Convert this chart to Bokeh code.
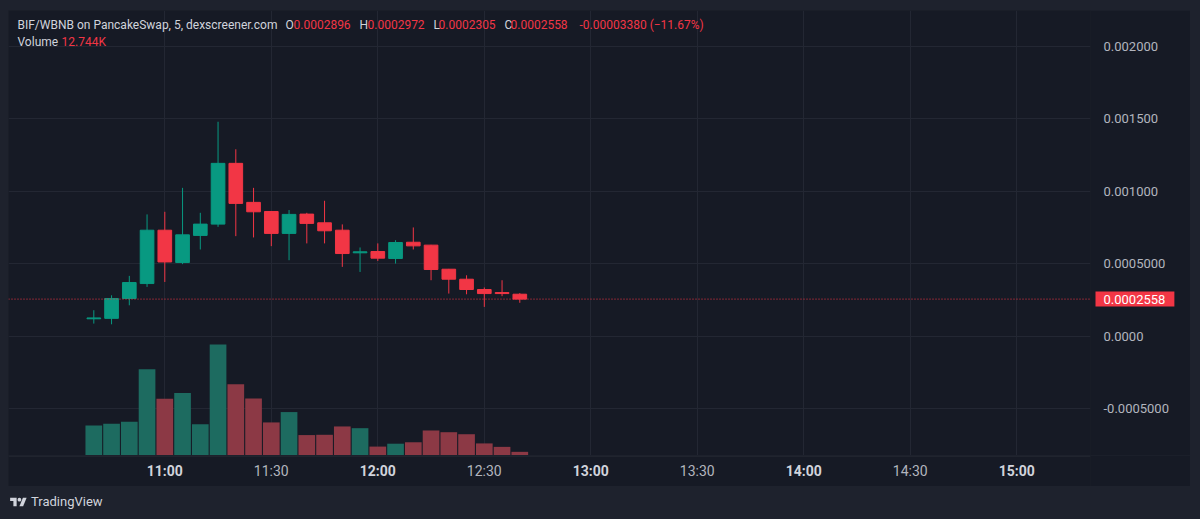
from bokeh.plotting import figure
from bokeh.models import Range1d, FixedTicker, Label, Span, Div, ColumnDataSource, LinearAxis
from bokeh.layouts import column
from bokeh.embed import file_html
from bokeh.resources import INLINE
from bokeh.core.properties import value

# ---------------- data ----------------
times = ["10:40", "10:45", "10:50", "10:55", "11:00", "11:05", "11:10", "11:15", "11:20",
         "11:25", "11:30", "11:35", "11:40", "11:45", "11:50", "11:55", "12:00", "12:05",
         "12:10", "12:15", "12:20", "12:25", "12:30", "12:35", "12:40"]
opens = [0.000120, 0.000123, 0.000260, 0.000363, 0.000731, 0.000508, 0.000695, 0.000773, 0.001192,
         0.000923, 0.000860, 0.000709, 0.000842, 0.000782, 0.000731, 0.000575, 0.000584, 0.000536,
         0.000648, 0.000628, 0.000462, 0.000393, 0.000322, 0.000301, 0.0002896]
highs = [0.000179, 0.000282, 0.000416, 0.000840, 0.000858, 0.001023, 0.000851, 0.001479, 0.001289,
         0.001023, 0.000862, 0.000870, 0.000851, 0.000934, 0.000771, 0.000612, 0.000640, 0.000662,
         0.000750, 0.000630, 0.000464, 0.000420, 0.000336, 0.000386, 0.0002972]
lows = [0.000087, 0.000082, 0.000213, 0.000340, 0.000374, 0.000497, 0.000598, 0.000754, 0.000690,
        0.000681, 0.000621, 0.000524, 0.000640, 0.000640, 0.000478, 0.000443, 0.000519, 0.000501,
        0.000598, 0.000386, 0.000294, 0.000289, 0.000202, 0.000276, 0.0002305]
closes = [0.000126, 0.000260, 0.000370, 0.000731, 0.000512, 0.000699, 0.000773, 0.001192, 0.000916,
          0.000858, 0.000709, 0.000840, 0.000778, 0.000727, 0.000570, 0.000582, 0.000538, 0.000646,
          0.000623, 0.000460, 0.000393, 0.000322, 0.000294, 0.000294, 0.0002558]
volumes_k = [104, 110, 117, 300, 197, 217, 109, 386, 248, 198, 115, 151, 71, 72, 101, 95, 31, 41,
             46, 87, 81, 74, 42, 30, 12.744]

last_price = 0.0002558
last_price_label = "0.0002558"
price_ticks = [-0.0005, 0.0, 0.0005, 0.001, 0.0015, 0.002]
price_tick_labels = ["-0.0005000", "0.0000", "0.0005000", "0.001000", "0.001500", "0.002000"]
time_ticks = ["11:00", "11:30", "12:00", "12:30", "13:00", "13:30", "14:00", "14:30", "15:00"]

header_title = "BIF/WBNB on PancakeSwap, 5, dexscreener.com"
header_keys = ["O", "H", "L", "C"]
header_vals = ["0.0002896", "0.0002972", "0.0002305", "0.0002558"]
header_change = "-0.00003380 (\u221211.67%)"
volume_label = "Volume"
volume_value = "12.744K"

# ---------------- style ----------------
FONT = "Roboto"
PANEL = "#161a25"
OUTER = "#1e222d"
GRID = "#232733"
UP = "#089981"
DOWN = "#f23645"
VOL_UP = "#1d6b60"
VOL_DOWN = "#8c3945"
TXT = "#d1d4dc"
AX = "#b2b5be"
HDR_SIZE = "12px"
TAG_W = 77  # width of the price-tag side panel


def to_min(t):
    h, m = t.split(":")
    return (int(h) - 10) * 60 + int(m)


xs = [to_min(t) for t in times]
up = [c >= o for o, c in zip(opens, closes)]
src = ColumnDataSource(dict(
    x=xs, high=highs, low=lows,
    top=[max(o, c) for o, c in zip(opens, closes)],
    bottom=[min(o, c) for o, c in zip(opens, closes)],
    color=[UP if u else DOWN for u in up],
    vcolor=[VOL_UP if u else VOL_DOWN for u in up],
    vol=volumes_k,
))

X0, X1 = 15.97, 320.76
FIG_W = 1182

p = figure(width=FIG_W, height=445, x_range=Range1d(X0, X1),
           y_range=Range1d(-0.0008228, 0.0022462),
           x_axis_location=None, y_axis_location=None,
           output_backend="svg", toolbar_location=None,
           min_border_left=0, min_border_top=0, min_border_bottom=0, min_border_right=100,
           background_fill_color=PANEL, border_fill_color=PANEL, outline_line_color=None,
           margin=(10, 10, 0, 8))
p.extra_y_ranges = {"vol": Range1d(0, 1547)}

# price tag (lives in the right side panel, next to the frame)
p.add_layout(Label(x=5, y=last_price, x_units="screen", y_units="data",
                   text=last_price_label, text_color="#ffffff",
                   text_font=FONT, text_font_size="13px", text_baseline="middle",
                   text_align="left", background_fill_color=DOWN,
                   padding=dict(left=8, right=9, top=3, bottom=3)), "right")

# price axis
ya = LinearAxis(ticker=FixedTicker(ticks=price_ticks))
ya.major_label_overrides = {t: l for t, l in zip(price_ticks, price_tick_labels)}
ya.axis_line_color = None
ya.major_tick_out = 0
ya.major_tick_in = 0
ya.minor_tick_line_color = None
ya.major_label_standoff = 11 - TAG_W
ya.major_label_text_color = AX
ya.major_label_text_font = FONT
ya.major_label_text_font_size = "13px"
p.add_layout(ya, "right")

p.ygrid.ticker = FixedTicker(ticks=price_ticks)
p.ygrid.grid_line_color = GRID
p.xgrid.ticker = FixedTicker(ticks=[to_min(t) for t in time_ticks])
p.xgrid.grid_line_color = GRID

# volume
p.vbar(x="x", width=4.7, top="vol", bottom=0, y_range_name="vol", source=src,
       fill_color="vcolor", line_color=None)
# candles
p.segment(x0="x", y0="low", x1="x", y1="high", source=src, line_color="color", line_width=1)
p.vbar(x="x", width=3.85, top="top", bottom="bottom", source=src,
       fill_color="color", line_color="color", line_width=1)

p.add_layout(Span(location=last_price, dimension="width", line_color=DOWN,
                  line_dash="1 2", line_width=1))

# header
Y1, Y2 = 431, 414
hdr = [(9, header_title, TXT)]
key_x = [277, 351, 425, 496]
val_x = [285, 359, 430, 502]
for kx, vx, k, v in zip(key_x, val_x, header_keys, header_vals):
    hdr.append((kx, k, TXT))
    hdr.append((vx, v, DOWN))
hdr.append((571, header_change, DOWN))
hdr.append((9, volume_label, TXT, Y2))
for item in hdr:
    x, t, c = item[:3]
    yy = item[3] if len(item) > 3 else Y1
    p.add_layout(Label(x=x, y=yy, x_units="screen", y_units="screen", text=t, text_color=c,
                       text_font=FONT, text_font_size=HDR_SIZE, text_baseline="middle"))
p.add_layout(Label(x=53, y=Y2, x_units="screen", y_units="screen", text=volume_value,
                   text_color=DOWN, text_font=FONT, text_font_size=HDR_SIZE, text_baseline="middle"))

# time axis strip (frames of a column are aligned, so it shares the chart's x scale)
p_time = figure(width=FIG_W, height=31, x_range=p.x_range, y_range=Range1d(0, 31),
                x_axis_location=None, y_axis_location=None,
                output_backend="svg", toolbar_location=None,
                min_border_left=0, min_border_top=0, min_border_bottom=0, min_border_right=100,
                background_fill_color=PANEL, border_fill_color=PANEL,
                outline_line_color=None, margin=(0, 10, 0, 8))
p_time.grid.visible = False
p_time.add_layout(Span(location=30.5, dimension="width", line_color="#2a2e39", line_width=1))
tick_x = [to_min(t) for t in time_ticks]
bold = [t.endswith(":00") for t in time_ticks]
p_time.text(x=tick_x, y=[15.5] * len(tick_x), text=time_ticks,
            text_font_style=["bold" if b else "normal" for b in bold],
            text_color=[TXT if b else AX for b in bold],
            text_align="center", text_baseline="middle",
            text_font=value(FONT), text_font_size="14px")

logo_svg = ('<svg width="17" height="13" viewBox="0 0 36 28" style="margin-right:4px">'
            '<path d="M14 22H7V11H0V4h14v18z" fill="#d1d4dc"/>'
            '<circle cx="20" cy="8" r="4" fill="#d1d4dc"/>'
            '<path d="M28 22h-8l7.5-18h8L28 22z" fill="#d1d4dc"/></svg>')
logo = Div(text=('<div style="display:flex;align-items:center;height:33px;color:#d1d4dc;'
                 'font-family:Roboto;font-size:13px;">' + logo_svg + '<span>TradingView</span></div>'),
           width=200, height=33, margin=(0, 0, 0, 10))

layout = column(p, p_time, logo, styles={"background-color": OUTER})

html = file_html(layout, INLINE, title="BIF/WBNB")
html = html.replace("</head>", "<style>html,body{margin:0;padding:0;background:#1e222d;}</style></head>", 1)
open("out.html", "w").write(html)
